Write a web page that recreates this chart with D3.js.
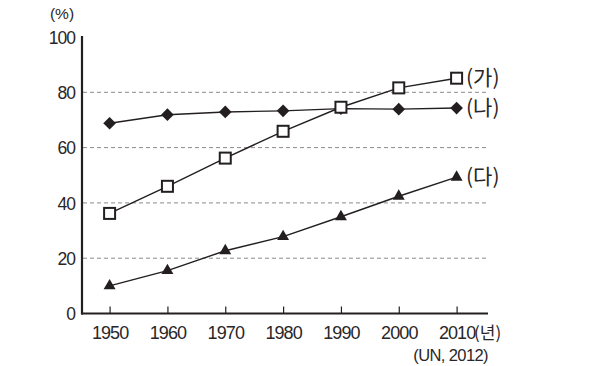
<!DOCTYPE html>
<html><head><meta charset="utf-8">
<script src="https://cdn.jsdelivr.net/npm/d3@7"></script>
<style>
html,body{margin:0;padding:0;background:#fff;}
text{font-family:"Liberation Sans",Arial,sans-serif;fill:#2a2627;}
</style></head>
<body>
<svg id="c" width="608" height="366"></svg>
<script>
const years = [1950, 1960, 1970, 1980, 1990, 2000, 2010];
const seriesGa = [36.2, 46.0, 56.2, 65.9, 74.6, 81.6, 85.1];
const seriesNa = [68.8, 71.9, 72.9, 73.3, 74.1, 73.9, 74.3];
const seriesDa = [10.0, 15.5, 22.7, 27.8, 35.0, 42.4, 49.3];
const yTicks = [0, 20, 40, 60, 80, 100];
const gridValues = [20, 40, 60, 80];
const seriesLabels = ["(가)", "(나)", "(다)"];

const svg = d3.select("#c");
const x = d3.scaleLinear().domain([1950, 2010]).range([109.6, 456.6]);
const y = d3.scaleLinear().domain([0, 100]).range([313.5, 37]);
const axisLeftX = 82, axisRightX = 488;

svg.append("g").selectAll("line").data(gridValues).join("line")
  .attr("x1", axisLeftX + 1).attr("x2", axisRightX)
  .attr("y1", d => y(d)).attr("y2", d => y(d))
  .attr("stroke", "#8a8a8a").attr("stroke-width", 1)
  .attr("stroke-dasharray", "4,3");

const yAxis = d3.axisLeft(y).tickValues(yTicks).tickSize(0).tickPadding(8);
const gy = svg.append("g").attr("transform", `translate(${axisLeftX},0)`).call(yAxis);
gy.select(".domain").remove();
gy.selectAll("text").style("font-size", "17.5px").style("letter-spacing", "-1px")
  .attr("fill", "#2a2627").attr("dy", "0.36em").attr("x", -7);
svg.append("line").attr("x1", axisLeftX).attr("x2", axisLeftX)
  .attr("y1", 36).attr("y2", 314.5).attr("stroke", "#231f20").attr("stroke-width", 2.2);

const xAxis = d3.axisBottom(x).tickValues(years).tickFormat(d3.format("d")).tickSize(-7).tickPadding(0);
const gx = svg.append("g").attr("transform", `translate(0,${y(0)})`).call(xAxis);
gx.select(".domain").remove();
gx.selectAll(".tick line").attr("stroke", "#231f20").attr("stroke-width", 1.2);
gx.selectAll("text").style("font-size", "18px").style("letter-spacing", "-0.9px")
  .attr("fill", "#2a2627").attr("y", 25).attr("dy", 0);
svg.append("line").attr("x1", axisLeftX - 1).attr("x2", axisRightX)
  .attr("y1", y(0)).attr("y2", y(0)).attr("stroke", "#231f20").attr("stroke-width", 2.2);

svg.append("text").attr("x", 474).attr("y", y(0) + 25)
  .style("font-family", "'Noto Sans CJK KR',sans-serif").style("font-size", "17px")
  .text("(년)");
svg.append("text").attr("x", 62).attr("y", 19).attr("text-anchor", "middle")
  .style("font-size", "15.5px").text("(%)");
svg.append("text").attr("x", 488).attr("y", 361).attr("text-anchor", "end")
  .style("font-size", "16.5px").style("letter-spacing", "-0.6px").text("(UN, 2012)");

const line = d3.line().x((d, i) => x(years[i])).y(d => y(d));
[seriesGa, seriesNa, seriesDa].forEach(s => {
  svg.append("path").attr("d", line(s)).attr("fill", "none")
    .attr("stroke", "#231f20").attr("stroke-width", 1.4);
});

svg.append("g").selectAll("path").data(seriesNa).join("path")
  .attr("transform", (d, i) => `translate(${x(years[i])},${y(d)}) rotate(45)`)
  .attr("d", d3.symbol(d3.symbolSquare, 80)).attr("fill", "#231f20");
svg.append("g").selectAll("path").data(seriesDa).join("path")
  .attr("transform", (d, i) => `translate(${x(years[i])},${y(d)})`)
  .attr("d", d3.symbol(d3.symbolTriangle, 62)).attr("fill", "#231f20");
svg.append("g").selectAll("rect").data(seriesGa).join("rect")
  .attr("x", (d, i) => x(years[i]) - 5.5).attr("y", d => y(d) - 5.5)
  .attr("width", 11).attr("height", 11)
  .attr("fill", "#fff").attr("stroke", "#231f20").attr("stroke-width", 2);

const lastVals = [seriesGa[6], seriesNa[6], seriesDa[6]];
svg.append("g").selectAll("text").data(seriesLabels).join("text")
  .attr("x", 466).attr("y", (d, i) => y(lastVals[i]) - 2)
  .attr("dominant-baseline", "central")
  .style("font-family", "'Noto Sans CJK KR',sans-serif").style("font-size", "21px")
  .text(d => d);
</script>
</body></html>
